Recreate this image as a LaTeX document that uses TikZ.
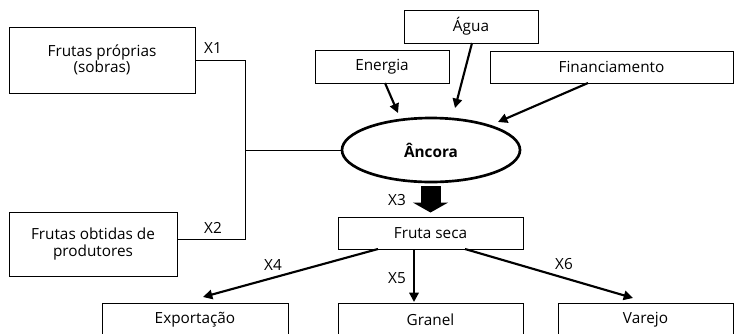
\documentclass[tikz,border=0pt]{standalone}
\usepackage{fontspec}
\setmainfont{Open Sans}
\usetikzlibrary{arrows.meta,shapes.geometric}
\begin{document}
\begin{tikzpicture}[x=0.75pt,y=-0.75pt,
  box/.style={draw,line width=0.75pt,inner sep=0pt,align=center,font=\fontsize{11.5}{12.5}\selectfont},
  lbl/.style={inner sep=0pt,font=\fontsize{11.5}{12.5}\selectfont},
  thin/.style={line width=0.75pt},
  arr/.style={line width=1.6pt,-{Triangle[length=7pt,width=7pt]}}]
\clip (0,0) rectangle (734,333);
\useasboundingbox (0,0) rectangle (734,333);
% boxes
\node[box,minimum width=139.5pt,minimum height=49.5pt] (fp) at (102,60) {Frutas próprias\\(sobras)};
\node[box,minimum width=126pt,minimum height=48pt] (fo) at (93,244) {Frutas obtidas de\\produtores};
\node[box,minimum width=100.5pt,minimum height=24.75pt] (en) at (382,66.5) {Energia};
\node[box,minimum width=100.5pt,minimum height=24.75pt] (ag) at (471,26.5) {Água};
\node[box,minimum width=182.25pt,minimum height=24pt] (fi) at (611.5,67) {Financiamento};
\node[draw,ellipse,line width=2pt,inner sep=0pt,minimum width=133.5pt,minimum height=48pt,font=\fontsize{11.5}{12.5}\selectfont\bfseries] (an) at (431,150) {Âncora};
\node[box,minimum width=138.75pt,minimum height=24pt] (fs) at (430.5,233) {Fruta seca};
\node[box,minimum width=139.5pt,minimum height=25.5pt] (ex) at (195,320) {Exportação};
\node[box,minimum width=138.75pt,minimum height=25.5pt] (gr) at (430.5,320) {Granel};
\node[box,minimum width=131.25pt,minimum height=25.5pt] (va) at (645.5,320) {Varejo};
% junction lines
\coordinate (j1) at (245,60);
\coordinate (j2) at (245,239);
\coordinate (j3) at (245,150);
\draw[thin] (fp.east) -- (j1) -- (j2) -- (fo.east |- j2);
\draw[thin] (j3) -- (an.west);
% input arrows
\coordinate (s1) at (385,83);  \coordinate (t1) at (398,113);
\coordinate (s2) at (472,43);  \coordinate (t2) at (455,108);
\coordinate (s3) at (588,83);  \coordinate (t3) at (498,122);
\draw[arr] (s1) -- (t1);
\draw[arr] (s2) -- (t2);
\draw[arr] (s3) -- (t3);
% big arrow
\draw[line width=15pt,-{Triangle[length=7.5pt,width=26.25pt]},shorten <=2.25pt,shorten >=3pt] (fs.north |- an.south) -- (fs.north);
% output arrows
\coordinate (s4) at (378,249); \coordinate (t4) at (203,297);
\coordinate (s5) at (414,250); \coordinate (t5) at (414,302);
\coordinate (s6) at (465,249); \coordinate (t6) at (633,298);
\draw[arr] (s4) -- (t4);
\draw[arr] (s5) -- (t5);
\draw[arr] (s6) -- (t6);
% labels
\node[lbl] (x1) at (213,48) {X1};
\node[lbl] (x2) at (213,228) {X2};
\node[lbl] (x3) at (397,200) {X3};
\node[lbl] (x4) at (273,265) {X4};
\node[lbl] (x5) at (397,278) {X5};
\node[lbl] (x6) at (564,264) {X6};
\end{tikzpicture}
\end{document}
